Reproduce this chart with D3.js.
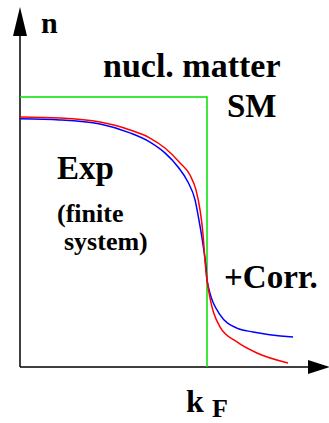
<!DOCTYPE html>
<html><head><meta charset="utf-8"><script src="https://cdn.jsdelivr.net/npm/d3@7"></script></head>
<body style="margin:0">
<script>
// momentum in units of kF, occupation n
var stepK = [0, 1, 1],
    stepN = [1, 1, 0];

var expK = [0, 0.214, 0.428, 0.588, 0.695, 0.775, 0.845, 0.898, 0.936, 0.957, 0.979, 0.995, 1.0, 1.07, 1.16, 1.246, 1.46],
    expN = [0.919, 0.915, 0.9, 0.867, 0.833, 0.793, 0.741, 0.685, 0.619, 0.544, 0.452, 0.367, 0.322, 0.193, 0.144, 0.13, 0.111];

var corrK = [0, 0.214, 0.428, 0.588, 0.695, 0.775, 0.856, 0.909, 0.941, 0.963, 0.979, 0.989, 1.0, 1.07, 1.16, 1.267, 1.433],
    corrN = [0.926, 0.922, 0.907, 0.878, 0.848, 0.811, 0.756, 0.711, 0.656, 0.581, 0.489, 0.396, 0.322, 0.148, 0.093, 0.052, 0.015];

var labelText = ["n", "nucl. matter", "SM", "Exp", "(finite", "system)", "+Corr.", "k", "F"];

var width = 329, height = 423;

var x = d3.scaleLinear().domain([0, 1]).range([20, 207]);
var y = d3.scaleLinear().domain([0, 1]).range([367, 97]);

var svg = d3.select("body").append("svg")
  .attr("width", width)
  .attr("height", height)
  .attr("font-family", "Liberation Serif, Times New Roman, serif")
  .attr("font-weight", "bold");

function zip(ks, ns) {
  return ks.map(function(k, i){ return {k: k, n: ns[i]}; });
}

var straight = d3.line()
  .x(function(d){ return x(d.k); })
  .y(function(d){ return y(d.n); });

var smooth = d3.line()
  .curve(d3.curveMonotoneX)
  .x(function(d){ return x(d.k); })
  .y(function(d){ return y(d.n); });

// Label placement: [x, y, font size]
var labelPos = [
  [41, 33, 30],
  [103, 77, 34],
  [227, 117, 33],
  [57, 179, 33],
  [57, 222, 26],
  [64, 250, 26],
  [224, 288, 33],
  [186, 412, 32],
  [212, 417, 26]
];
labelText.forEach(function(t, i){
  var p = labelPos[i];
  svg.append("text")
    .attr("x", p[0]).attr("y", p[1])
    .attr("font-size", p[2])
    .text(t);
});

// Axes (no ticks, just arrows)
var xEnd = x.invert(width + 1), yEnd = y.invert(7);

svg.append("line")
  .attr("x1", x(0)).attr("y1", y(0))
  .attr("x2", x(xEnd) - 18).attr("y2", y(0))
  .style("stroke", "#000").style("stroke-width", 1.5);

svg.append("line")
  .attr("x1", x(0)).attr("y1", y(0))
  .attr("x2", x(0)).attr("y2", y(yEnd) + 26)
  .style("stroke", "#000").style("stroke-width", 1.5);

svg.append("path")
  .attr("d", "M" + x(xEnd) + "," + y(0) + "L" + (x(xEnd) - 22) + "," + (y(0) - 7) + "L" + (x(xEnd) - 22) + "," + (y(0) + 7) + "Z")
  .style("fill", "#000");

svg.append("path")
  .attr("d", "M" + x(0) + "," + y(yEnd) + "L" + (x(0) - 7) + "," + (y(yEnd) + 29) + "L" + (x(0) + 7) + "," + (y(yEnd) + 29) + "Z")
  .style("fill", "#000");

// Nuclear matter step
svg.append("path")
  .datum(zip(stepK, stepN))
  .attr("d", straight)
  .style("fill", "none")
  .style("stroke", "#00e000")
  .style("stroke-width", 1.5);

// Finite system
svg.append("path")
  .datum(zip(expK, expN))
  .attr("d", smooth)
  .style("fill", "none")
  .style("stroke", "#0000ff")
  .style("stroke-width", 1.5);

// With correlations
svg.append("path")
  .datum(zip(corrK, corrN))
  .attr("d", smooth)
  .style("fill", "none")
  .style("stroke", "#ff0000")
  .style("stroke-width", 1.5);
</script>
</body></html>
